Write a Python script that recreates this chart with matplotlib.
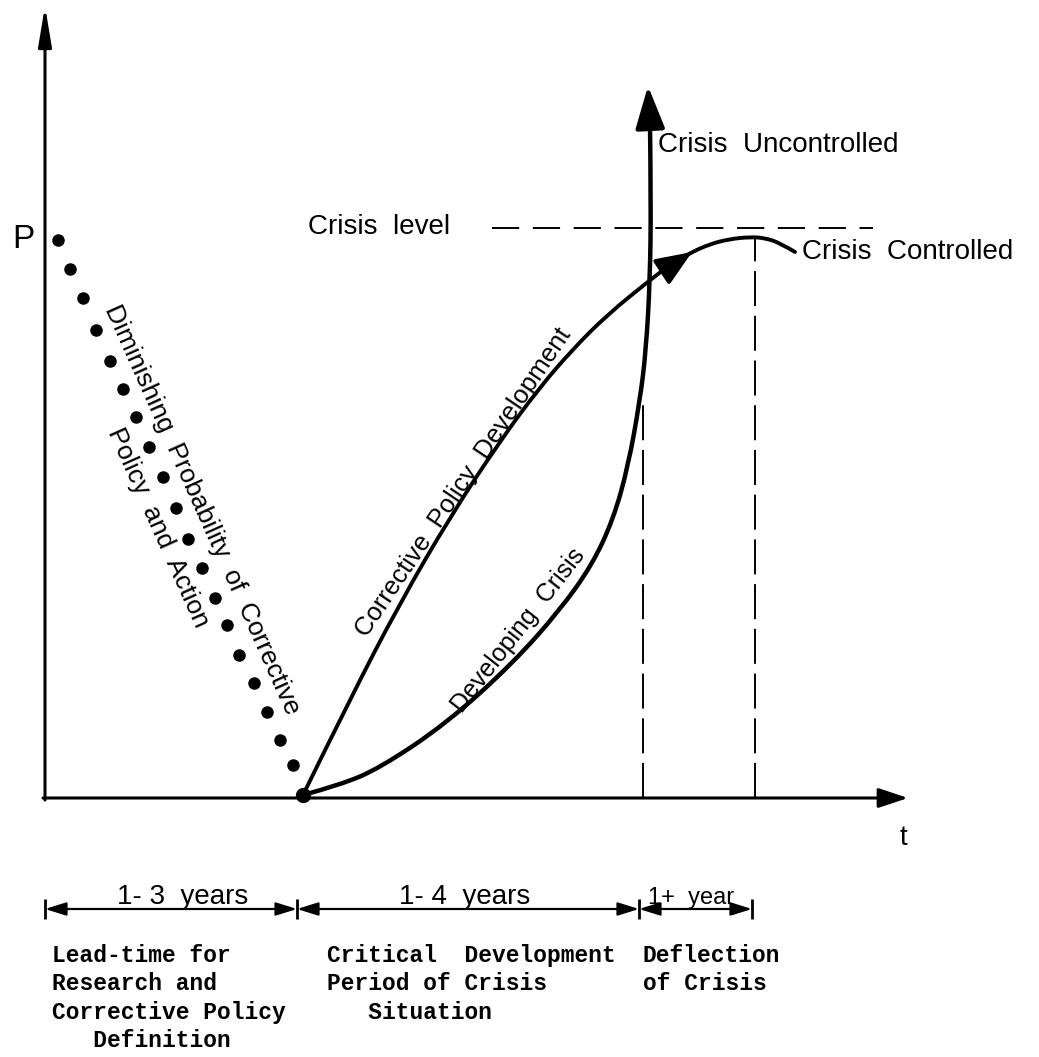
import numpy as np
import matplotlib
matplotlib.use("Agg")
import matplotlib.pyplot as plt
from matplotlib.path import Path
from matplotlib.patches import PathPatch

# --- data (t = time axis, P = probability / level), origin at the axes corner
dot_t = [13, 25, 38, 51, 65, 78, 91, 104, 118, 131, 143, 157, 170, 182, 194, 209, 222, 235, 248]
dot_p = [558, 529, 500, 468, 437, 409, 381, 351, 321, 290, 259, 230, 200, 173, 143, 115, 86, 58, 33]

start_t, start_p = 258, 3

policy_t = [258, 305, 355, 405, 455, 495, 528, 562, 605, 625, 645, 665, 685, 705, 720, 735, 750]
policy_p = [3, 99, 195, 281, 357, 411, 449, 483, 518, 533, 545, 554, 559, 561, 560, 555, 546]
policy_arrow = [(621, 529), (647, 546)]

crisis_t = [258, 295, 335, 402, 468, 515, 547, 568, 583, 595, 601, 605, 606, 605]
crisis_p = [3, 13, 30, 75, 135, 188, 233, 278, 331, 398, 448, 518, 598, 673]
crisis_tip = (603, 712)

crisis_level = 570
crisis_level_span = (447, 828)
uncontrolled_t, uncontrolled_top = 598, 398
controlled_t, controlled_top = 710, 561

axis_x_end = 863
axis_y_end = 792

period_bounds = [0, 252, 594, 707]
period_y = -111
period_labels = ["1- 3  years", "1- 4  years", "1+  year"]
period_label_t = [138, 420, 646]
period_notes = ["Lead-time for\nResearch and\nCorrective Policy\n   Definition",
                "Critical  Development\nPeriod of Crisis\n   Situation",
                "Deflection\nof Crisis"]


def smooth_path(xs, ys):
    # quadratic B-spline using the read points as control polygon
    pts = np.column_stack([xs, ys]).astype(float)
    verts = [pts[0]]
    codes = [Path.MOVETO]
    n = len(pts)
    for i in range(1, n - 1):
        end = (pts[i] + pts[i + 1]) / 2 if i < n - 2 else pts[i + 1]
        verts += [pts[i], end]
        codes += [Path.CURVE3, Path.CURVE3]
    return Path(verts, codes)


fig = plt.figure(figsize=(10.39, 10.57), dpi=100)
ax = fig.add_axes([0, 0, 1, 1])
ax.set_xlim(-45, 994)
ax.set_ylim(-259, 798)
ax.axis('off')

sans = 'Liberation Sans'
mono = 'Liberation Mono'
k = 'black'

# axes with arrows
ax.annotate('', xy=(0, axis_y_end), xytext=(0, -2),
            arrowprops=dict(arrowstyle='-|>,head_length=1.2,head_width=0.2',
                            mutation_scale=20, lw=2.2, color=k, shrinkA=0, shrinkB=0))
ax.annotate('', xy=(axis_x_end, 0), xytext=(-2, 0),
            arrowprops=dict(arrowstyle='-|>,head_length=0.9,head_width=0.3',
                            mutation_scale=20, lw=2.2, color=k, shrinkA=0, shrinkB=0))
ax.text(-22, 558, 'P', fontsize=24, family=sans, ha='center', va='center')
ax.text(858, -40, 't', fontsize=20, family=sans, ha='center', va='center')

# diminishing probability dots
ax.plot(dot_t, dot_p, 'o', color=k, ms=8, ls='none')
ax.plot([start_t], [start_p], 'o', color=k, ms=10)

# corrective policy development curve
ax.add_patch(PathPatch(smooth_path(policy_t, policy_p), fill=False, lw=2.8,
                       edgecolor=k, capstyle='round', joinstyle='round'))
ax.annotate('', xy=policy_arrow[1], xytext=policy_arrow[0],
            arrowprops=dict(arrowstyle='-|>,head_length=1.1,head_width=0.45',
                            mutation_scale=20, lw=2.8, color=k, shrinkA=0, shrinkB=0))

# developing crisis curve
ax.add_patch(PathPatch(smooth_path(crisis_t, crisis_p), fill=False, lw=3.2,
                       edgecolor=k, capstyle='round', joinstyle='round'))
ax.annotate('', xy=crisis_tip, xytext=(crisis_t[-1], crisis_p[-1]),
            arrowprops=dict(arrowstyle='-|>,head_length=1.3,head_width=0.45',
                            mutation_scale=20, lw=3.2, color=k, shrinkA=0, shrinkB=0))

# dashed reference lines
ax.plot(crisis_level_span, [crisis_level] * 2, color=k, lw=1.4, ls=(0, (14, 7)))
ax.plot([uncontrolled_t] * 2, [0, uncontrolled_top], color=k, lw=1.4, ls=(0, (18, 5)))
ax.plot([controlled_t] * 2, [0, controlled_top], color=k, lw=1.4, ls=(0, (18, 5)))

# labels
ax.text(334, 571, 'Crisis  level', fontsize=20, family=sans, ha='center', va='center')
ax.text(613, 653, 'Crisis  Uncontrolled', fontsize=20, family=sans, ha='left', va='center')
ax.text(757, 546, 'Crisis  Controlled', fontsize=20, family=sans, ha='left', va='center')

ax.text(157, 288, 'Diminishing  Probability  of  Corrective', fontsize=19, family=sans,
        rotation=-65.9, rotation_mode='anchor', ha='center', va='center')
ax.text(113, 270, 'Policy  and  Action', fontsize=19, family=sans,
        rotation=-65.9, rotation_mode='anchor', ha='center', va='center')
ax.text(419, 316, 'Corrective  Policy  Development', fontsize=18.5, family=sans,
        rotation=56, rotation_mode='anchor', ha='center', va='center')
ax.text(473, 168, 'Developing  Crisis', fontsize=18, family=sans,
        rotation=52, rotation_mode='anchor', ha='center', va='center')

# period dimension line
for a, b in zip(period_bounds[:-1], period_bounds[1:]):
    ax.annotate('', xy=(b, period_y), xytext=(a, period_y),
                arrowprops=dict(arrowstyle='<|-|>,head_length=0.8,head_width=0.25',
                                mutation_scale=16, lw=1.6, color=k, shrinkA=0, shrinkB=0))
ax.plot(period_bounds, [period_y] * len(period_bounds), marker='|', ms=14, mew=2,
        color=k, ls='none')

label_sizes = [20, 20, 17]
for x, lab, fs in zip(period_label_t, period_labels, label_sizes):
    ax.text(x, period_y + 5, lab, fontsize=fs, family=sans, ha='center', va='baseline')

note_x = [7, 282, 598]
for x, note in zip(note_x, period_notes):
    ax.text(x, -146, note, fontsize=16.5, family=mono, weight='bold',
            ha='left', va='top', linespacing=1.3)

fig.savefig('out.png', dpi=100, facecolor='white')
